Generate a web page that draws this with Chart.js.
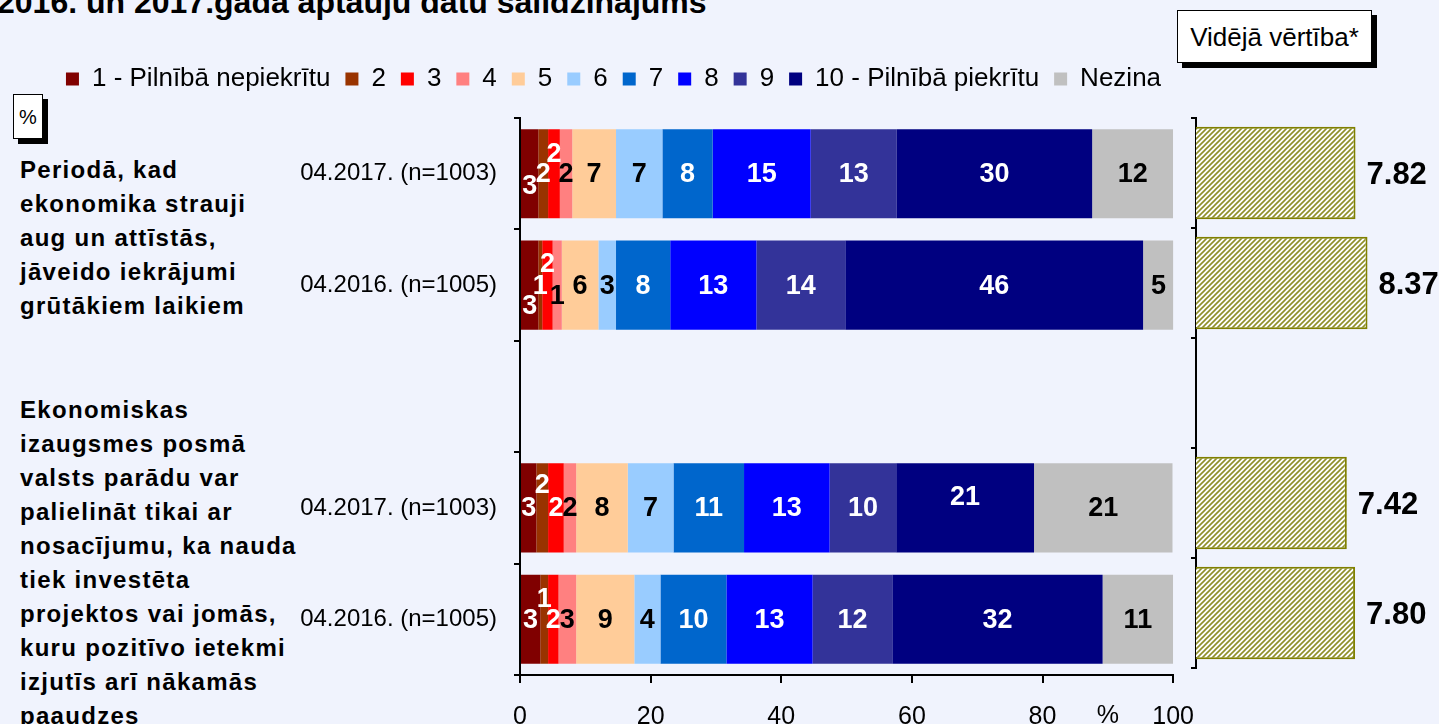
<!DOCTYPE html>
<html>
<head>
<meta charset="utf-8">
<script src="https://cdn.jsdelivr.net/npm/chart.js@4"></script>
<style>
  body {
    margin: 0;
    width: 1439px;
    height: 724px;
    overflow: hidden;
    position: relative;
    background: #F0F3FD;
    font-family: 'Liberation Sans', Arial, sans-serif;
  }
  .abs { position: absolute; }
  #title {
    left: -3px; top: -14px;
    font-size: 32px; font-weight: bold; line-height: 32px;
    white-space: nowrap;
  }
  .question {
    left: 20px;
    font-size: 24px; font-weight: bold; line-height: 34px;
    letter-spacing: 1.3px;
    white-space: nowrap;
  }
  #pct {
    left: 13px; top: 94px; width: 28px; height: 43px;
    border: 1px solid #000; background: #fff;
    box-shadow: 5px 5px 0 #000;
    font-size: 20px; text-align: center; line-height: 44px;
  }
  #avgTitle {
    left: 1177px; top: 10px; width: 193px; height: 51px;
    border: 1px solid #000; background: #fff;
    box-shadow: 5px 5px 0 #000;
    font-size: 26px; text-align: center; line-height: 52px;
    white-space: nowrap;
  }
  #mainChart { left: 0; top: 40px; }
  #avgChart { left: 1180px; top: 100px; }
</style>
</head>
<body>
<div id="title" class="abs">2016. un 2017.gada aptauju datu salīdzinājums</div>
<div id="pct" class="abs">%</div>
<div id="avgTitle" class="abs">Vidējā vērtība*</div>
<div class="abs question" style="top:153px">Periodā, kad<br>ekonomika strauji<br>aug un attīstās,<br>jāveido iekrājumi<br>grūtākiem laikiem</div>
<div class="abs question" style="top:393px">Ekonomiskas<br>izaugsmes posmā<br>valsts parādu var<br>palielināt tikai ar<br>nosacījumu, ka nauda<br>tiek investēta<br>projektos vai jomās,<br>kuru pozitīvo ietekmi<br>izjutīs arī nākamās<br>paaudzes</div>

<canvas id="mainChart" class="abs" width="1213" height="695"></canvas>
<canvas id="avgChart" class="abs" width="259" height="600"></canvas>

<script>
// rindas (tukšā rinda atdala abus jautājumus)
const rows = ['04.2017. (n=1003)', '04.2016. (n=1005)', '', '04.2017. (n=1003)', '04.2016. (n=1005)']
const answers = ['1 - Pilnībā nepiekrītu', '2', '3', '4', '5', '6', '7', '8', '9', '10 - Pilnībā piekrītu', 'Nezina']

// % no respondentiem, katrai atbildei
const ans1 = [2.8, 2.8, null, 2.5, 3.1]
const ans2 = [1.5, 0.6, null, 1.8, 1.2]
const ans3 = [1.8, 1.6, null, 2.4, 1.6]
const ans4 = [1.9, 1.4, null, 1.9, 2.7]
const ans5 = [6.7, 5.6, null, 7.9, 8.9]
const ans6 = [7.1, 2.7, null, 7.0, 4.0]
const ans7 = [7.7, 8.3, null, 10.8, 10.1]
const ans8 = [15.0, 13.2, null, 13.1, 13.2]
const ans9 = [13.2, 13.6, null, 10.2, 12.2]
const ans10 = [29.9, 45.6, null, 21.1, 32.2]
const ansDk = [12.4, 4.7, null, 21.2, 10.8]

// vidējā vērtība
const average = [7.82, 8.37, null, 7.42, 7.80]

const answerData = [ans1, ans2, ans3, ans4, ans5, ans6, ans7, ans8, ans9, ans10, ansDk]

const colors = ['#800000', '#993300', '#FF0000', '#FF8080', '#FFCC99', '#99CCFF',
  '#0066CC', '#0000FF', '#333399', '#000080', '#C0C0C0']
const labelColors = ['#fff', '#fff', '#fff', '#000', '#000', '#000', '#fff', '#fff', '#fff', '#fff', '#000']
// mazo segmentu uzrakstu nobīde uz augšu/leju (rinda -> datu kopa -> px)
const labelShift = {
  0: { 0: 12, 2: -20 },
  1: { 0: 20, 2: -22, 3: 10 },
  3: { 1: -23, 9: -11 },
  4: { 1: -21 },
}

// leģendai vairāk vietas apakšā
const legendHeight = {
  id: 'legendHeight',
  beforeInit(chart) {
    const fit = chart.legend.fit
    chart.legend.fit = function () {
      fit.bind(chart.legend)()
      this.height = 67
    }
  },
}

// skaitļi segmentos
const barLabels = {
  id: 'barLabels',
  afterDatasetsDraw(chart) {
    const { ctx } = chart
    ctx.save()
    ctx.font = 'bold 27px "Liberation Sans", Arial, sans-serif'
    ctx.textAlign = 'center'
    ctx.textBaseline = 'middle'
    chart.data.datasets.forEach((ds, i) => {
      const meta = chart.getDatasetMeta(i)
      meta.data.forEach((bar, j) => {
        const v = ds.data[j]
        if (v == null) return
        const dy = (labelShift[j] && labelShift[j][i]) || 0
        ctx.fillStyle = labelColors[i]
        ctx.fillText(Math.round(v), (bar.x + bar.base) / 2, bar.y + dy + 1)
      })
    })
    // % zīme pie x ass
    const xs = chart.scales.x
    ctx.font = '25px "Liberation Sans", Arial, sans-serif'
    ctx.fillStyle = '#000'
    ctx.textBaseline = 'top'
    ctx.fillText('%', xs.getPixelForValue(90), xs.top + 29)
    ctx.restore()
  },
}

new Chart(document.getElementById('mainChart').getContext('2d'), {
  type: 'bar',
  data: {
    labels: rows,
    datasets: answers.map((a, i) => ({
      label: a,
      data: answerData[i],
      backgroundColor: colors[i],
      borderWidth: 0,
      barPercentage: 0.8,
      categoryPercentage: 1,
    })),
  },
  options: {
    indexAxis: 'y',
    responsive: false,
    animation: false,
    layout: { padding: { top: 11, left: 14 } },
    plugins: {
      legend: {
        position: 'top',
        labels: {
          boxWidth: 13,
          boxHeight: 13,
          padding: 15,
          color: '#000',
          font: { size: 26, family: '"Liberation Sans", Arial, sans-serif' },
        },
      },
      tooltip: { enabled: false },
    },
    scales: {
      x: {
        stacked: true,
        min: 0,
        max: 100,
        ticks: {
          stepSize: 20,
          color: '#000',
          padding: 19,
          font: { size: 25, family: '"Liberation Sans", Arial, sans-serif' },
        },
        grid: { drawOnChartArea: false, tickLength: 8, color: '#000', lineWidth: 2 },
        border: { color: '#000', width: 2 },
        afterFit(scale) { scale.height = 60 },
      },
      y: {
        stacked: true,
        ticks: {
          color: '#000',
          padding: 17,
          font: { size: 24, family: '"Liberation Sans", Arial, sans-serif' },
        },
        grid: { drawOnChartArea: false, offset: true, tickLength: 6, color: '#000', lineWidth: 2 },
        border: { color: '#000', width: 2 },
        afterFit(scale) { scale.width = 506 },
      },
    },
  },
  plugins: [legendHeight, barLabels],
})

// svītrots raksts vidējām vērtībām
function makeHatch() {
  const c = document.createElement('canvas')
  c.width = 5
  c.height = 5
  const p = c.getContext('2d')
  p.fillStyle = '#fff'
  p.fillRect(0, 0, 5, 5)
  p.strokeStyle = '#8f8f2a'
  p.lineWidth = 1.6
  p.beginPath()
  p.moveTo(-1, 6); p.lineTo(6, -1)
  p.moveTo(-1, 1); p.lineTo(1, -1)
  p.moveTo(4, 6); p.lineTo(6, 4)
  p.stroke()
  return p.createPattern(c, 'repeat')
}

const avgLabels = {
  id: 'avgLabels',
  afterDatasetsDraw(chart) {
    const { ctx } = chart
    ctx.save()
    ctx.font = 'bold 31px "Liberation Sans", Arial, sans-serif'
    ctx.fillStyle = '#000'
    ctx.textAlign = 'left'
    ctx.textBaseline = 'middle'
    const meta = chart.getDatasetMeta(0)
    meta.data.forEach((bar, j) => {
      const v = average[j]
      if (v == null) return
      ctx.fillText(v.toFixed(2), bar.x + 11, bar.y + 2)
    })
    ctx.restore()
  },
}

const avgCtx = document.getElementById('avgChart').getContext('2d')
new Chart(avgCtx, {
  type: 'bar',
  data: {
    labels: rows,
    datasets: [{
      label: 'Vidējā vērtība',
      data: average,
      backgroundColor: makeHatch(),
      borderColor: '#808000',
      borderWidth: 2,
      borderSkipped: false,
      barPercentage: 0.84,
      categoryPercentage: 1,
    }],
  },
  options: {
    indexAxis: 'y',
    responsive: false,
    animation: false,
    layout: { padding: { top: 18, bottom: 32 } },
    plugins: { legend: { display: false }, tooltip: { enabled: false } },
    scales: {
      x: { display: false, min: 0.5, max: 11.65 },
      y: {
        ticks: { display: false },
        grid: { drawOnChartArea: false, offset: true, tickLength: 5, color: '#000', lineWidth: 2 },
        border: { color: '#000', width: 2 },
        afterFit(scale) { scale.width = 16 },
      },
    },
  },
  plugins: [avgLabels],
})
</script>
</body>
</html>
